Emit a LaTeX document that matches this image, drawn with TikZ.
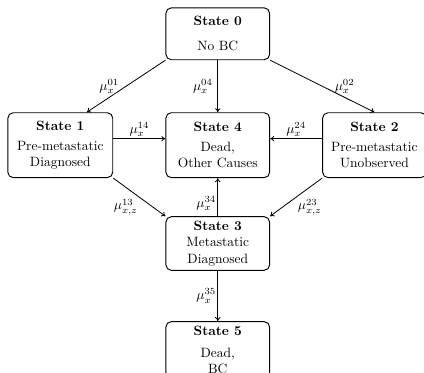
\documentclass[tikz,border=0pt]{standalone}
\usepackage{tikz}
\usetikzlibrary{positioning, arrows.meta}
\usepackage{amsmath}

\begin{document}
\begin{tikzpicture}[
  statenode/.style={
    draw=black, fill=white, line width=0.7pt,
    minimum width=2.7cm, minimum height=1.69cm,
    font=\normalsize, align=center,
    rounded corners=4pt
  },
  arrow/.style={-{To[length=3pt, width=4pt]}, line width=0.6pt},
  ratelabel/.style={inner sep=1pt}
]
\useasboundingbox (0,0) rectangle (11.04,-9.70);

% ---- STATES ----
\node[statenode, minimum height=1.35cm] (s0) at (5.67,-0.88) {\textbf{State 0}\\[6.5pt] No BC};
\node[statenode, minimum width=2.73cm]  (s1) at (1.57,-3.78) {\textbf{State 1}\\[3pt] Pre-metastatic\\ Diagnosed};
\node[statenode]                        (s4) at (5.67,-3.78) {\textbf{State 4}\\[3pt] Dead,\\ Other Causes};
\node[statenode]                        (s2) at (9.75,-3.78) {\textbf{State 2}\\[3pt] Pre-metastatic\\ Unobserved};
\node[statenode, minimum height=1.35cm] (s3) at (5.67,-6.34) {\textbf{State 3}\\ Metastatic\\ Diagnosed};
\node[statenode, minimum height=1.42cm] (s5) at (5.67,-9.11) {\textbf{State 5}\\[4pt] Dead,\\ BC};

% ---- TRANSITIONS ----
\draw[arrow] (s0.south west) -- ([xshift=0.69cm]s1.north)
  node[ratelabel, midway, left=4pt] {$\mu_x^{01}$};
\draw[arrow] (s0.south) -- (s4.north)
  node[ratelabel, midway, left=2.5pt] {$\mu_x^{04}$};
\draw[arrow] (s0.south east) -- (s2.north)
  node[ratelabel, midway, right=8pt] {$\mu_x^{02}$};

\draw[arrow] ([yshift=0.17cm]s1.east) -- ([yshift=0.17cm]s4.west)
  node[ratelabel, midway, above] {$\mu_x^{14}$};
\draw[arrow] ([yshift=0.17cm]s2.west) -- ([yshift=0.17cm]s4.east)
  node[ratelabel, midway, above] {$\mu_x^{24}$};

\draw[arrow] (s1.south east) -- (s3.north west)
  node[ratelabel, midway, below left] {$\mu_{x,z}^{13}$};
\draw[arrow] (s2.south west) -- (s3.north east)
  node[ratelabel, midway, below right] {$\mu_{x,z}^{23}$};
\draw[arrow] (s3.north) -- (s4.south)
  node[ratelabel, pos=0.33, left] {$\mu_x^{34}$};

\draw[arrow] (s3.south) -- (s5.north)
  node[ratelabel, midway, left] {$\mu_x^{35}$};

\end{tikzpicture}
\end{document}
